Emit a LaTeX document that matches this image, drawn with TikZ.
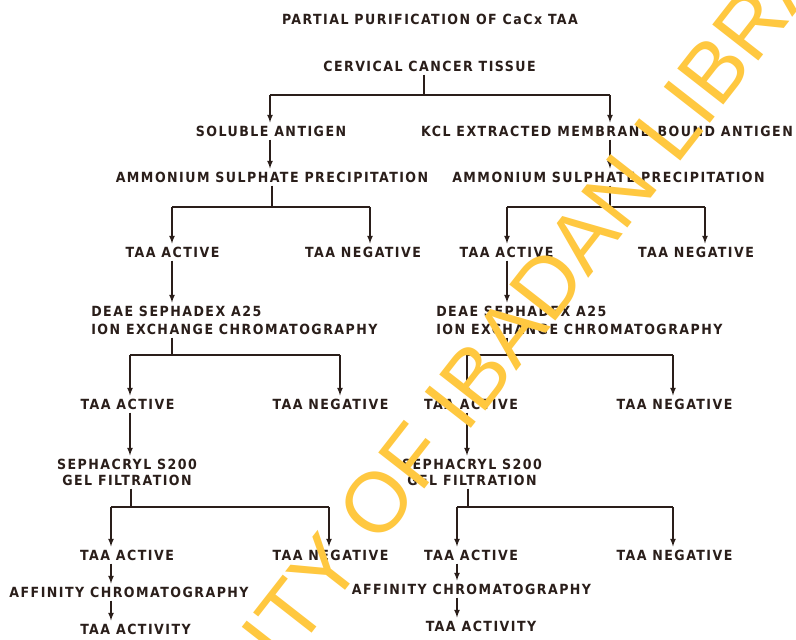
\documentclass[tikz,border=0pt]{standalone}
\usepackage{fontspec}
\usepackage{tikz}
\usetikzlibrary{arrows}
\newfontfamily\stagefont{DejaVu Sans Condensed}[LetterSpace=10.5]
\newfontfamily\wmfont{Liberation Sans}
\definecolor{ink}{RGB}{42,30,26}
\definecolor{wmark}{RGB}{255,200,64}
\tikzset{
	stage/.style    = {font=\stagefont\bfseries\fontsize{14}{18}\selectfont,
		inner sep=2.5pt},
	twoline/.style  = {stage, align=left, anchor=west},
	joint/.style    = {coordinate}, % branch point
	stamp/.style    = {text=wmark, rotate=52,
		font=\wmfont\fontsize{85}{85}\selectfont} % library watermark
}

\begin{document}
\begin{tikzpicture}[x=1pt, y=-1pt, color=ink, line width=1.6pt, >=latex]
	\fill[white] (0,0) rectangle (796,640);
	\useasboundingbox (0,0) rectangle (796,640);
	\draw
	node at (430,19) [stage] (title) {PARTIAL PURIFICATION OF CaCx TAA}
	node at (429.5,66) [stage] (tissue) {CERVICAL CANCER TISSUE}
	node at (271,131) [stage] (sol) {SOLUBLE ANTIGEN}
	node at (607,131) [stage] (kcl) {KCL EXTRACTED MEMBRANE-BOUND ANTIGEN}
	node at (272,177) [stage] (amml) {AMMONIUM SULPHATE PRECIPITATION}
	node at (608.5,177) [stage] (ammr) {AMMONIUM SULPHATE PRECIPITATION}
	node at (172.5,252) [stage] (act2l) {TAA ACTIVE}
	node at (363,252) [stage] (neg2l) {TAA NEGATIVE}
	node at (506.5,252) [stage] (act2r) {TAA ACTIVE}
	node at (696,252) [stage] (neg2r) {TAA NEGATIVE}
	node at (88,320) [twoline] (deael) {DEAE SEPHADEX A25\\ION EXCHANGE CHROMATOGRAPHY}
	node at (433,320) [twoline] (deaer) {DEAE SEPHADEX A25\\ION EXCHANGE CHROMATOGRAPHY}
	node at (127.5,404) [stage] (act3l) {TAA ACTIVE}
	node at (330.5,404) [stage] (neg3l) {TAA NEGATIVE}
	node at (471,404) [stage] (act3r) {TAA ACTIVE}
	node at (674.5,404) [stage] (neg3r) {TAA NEGATIVE}
	node at (127,472) [stage,align=center] (sephl) {SEPHACRYL S200\\[-2pt]GEL FILTRATION}
	node at (472,472) [stage,align=center] (sephr) {SEPHACRYL S200\\[-2pt]GEL FILTRATION}
	node at (127,555) [stage] (act4l) {TAA ACTIVE}
	node at (330.5,555) [stage] (neg4l) {TAA NEGATIVE}
	node at (471,555) [stage] (act4r) {TAA ACTIVE}
	node at (674.5,555) [stage] (neg4r) {TAA NEGATIVE}
	node at (129,592) [stage] (affl) {AFFINITY CHROMATOGRAPHY}
	node at (471.5,589) [stage] (affr) {AFFINITY CHROMATOGRAPHY}
	node at (135.5,629) [stage] (taal) {TAA ACTIVITY}
	node at (481,626) [stage] (taar) {TAA ACTIVITY}
	;
	% branch points
	\draw
	node at (424,95) [joint] (b0) {} node at (270,95) [joint] (b0l) {} node at (610,95) [joint] (b0r) {}
	node at (272,207) [joint] (b1) {} node at (172,207) [joint] (b1l) {} node at (370,207) [joint] (b1r) {}
	node at (610,207) [joint] (b2) {} node at (507,207) [joint] (b2l) {} node at (705,207) [joint] (b2r) {}
	node at (172,355) [joint] (b3) {} node at (130,355) [joint] (b3l) {} node at (340,355) [joint] (b3r) {}
	node at (507,355) [joint] (b4) {} node at (467,355) [joint] (b4l) {} node at (673,355) [joint] (b4r) {}
	node at (131,507) [joint] (b5) {} node at (111,507) [joint] (b5l) {} node at (329,507) [joint] (b5r) {}
	node at (468,507) [joint] (b6) {} node at (457,507) [joint] (b6l) {} node at (673,507) [joint] (b6r) {}
	;
	\draw(tissue.south -| b0)--(b0);
	\draw(b0l)--(b0r);
	\draw[->](b0l)--(b0l |- sol.north);
	\draw[->](b0r)--(b0r |- kcl.north);
	\draw[->](sol.south -| b0l)--(amml.north -| b0l);
	\draw[->](kcl.south -| b0r)--(ammr.north -| b0r);
	\draw(amml.south -| b1)--(b1);
	\draw(b1l)--(b1r);
	\draw[->](b1l)--(b1l |- act2l.north);
	\draw[->](b1r)--(b1r |- neg2l.north);
	\draw(ammr.south -| b2)--(b2);
	\draw(b2l)--(b2r);
	\draw[->](b2l)--(b2l |- act2r.north);
	\draw[->](b2r)--(b2r |- neg2r.north);
	\draw[->](act2l.south -| b1l)--(deael.north -| b1l);
	\draw[->](act2r.south -| b2l)--(deaer.north -| b2l);
	\draw(deael.south -| b3)--(b3);
	\draw(b3l)--(b3r);
	\draw[->](b3l)--(b3l |- act3l.north);
	\draw[->](b3r)--(b3r |- neg3l.north);
	\draw(deaer.south -| b4)--(b4);
	\draw(b4l)--(b4r);
	\draw[->](b4l)--(b4l |- act3r.north);
	\draw[->](b4r)--(b4r |- neg3r.north);
	\draw[->](act3l.south -| b3l)--(sephl.north -| b3l);
	\draw[->](act3r.south -| b4l)--(sephr.north -| b4l);
	\draw(sephl.south -| b5)--(b5);
	\draw(b5l)--(b5r);
	\draw[->](b5l)--(b5l |- act4l.north);
	\draw[->](b5r)--(b5r |- neg4l.north);
	\draw(sephr.south -| b6)--(b6);
	\draw(b6l)--(b6r);
	\draw[->](b6l)--(b6l |- act4r.north);
	\draw[->](b6r)--(b6r |- neg4r.north);
	\draw[->](act4l.south -| b5l)--(affl.north -| b5l);
	\draw[->](affl.south -| b5l)--(taal.north -| b5l);
	\draw[->](act4r.south -| b6l)--(affr.north -| b6l);
	\draw[->](affr.south -| b6l)--(taar.north -| b6l);
	% watermark over the chart
	\node at (452,406) [stamp] (wm) {UNIVERSITY OF IBADAN LIBRARY};
\end{tikzpicture}
\end{document}
